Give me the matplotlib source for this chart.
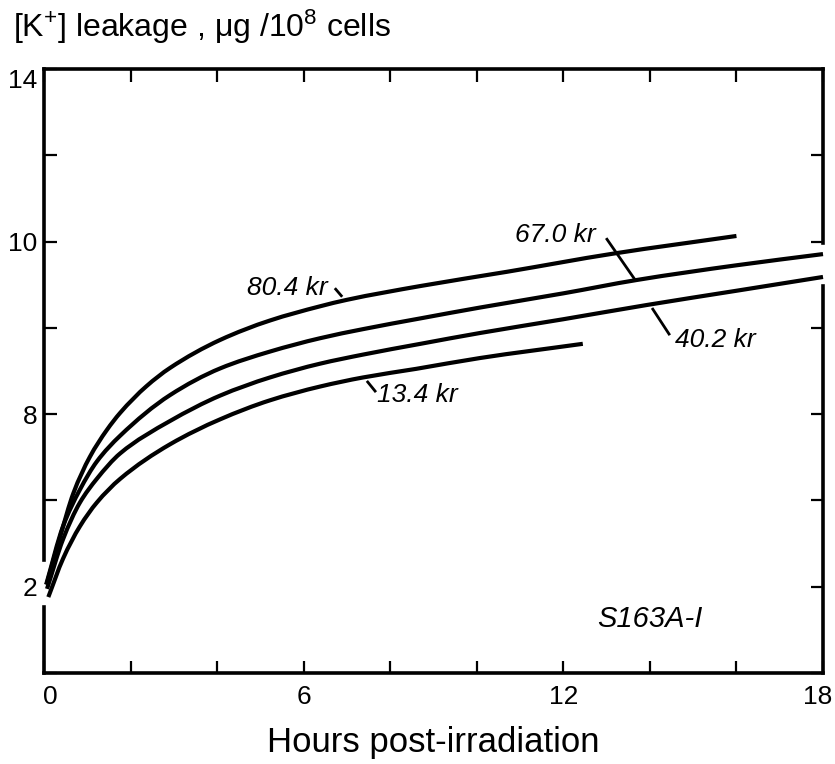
import matplotlib
matplotlib.use("Agg")
import matplotlib.pyplot as plt
from matplotlib.path import Path
from matplotlib.patches import PathPatch
from matplotlib.transforms import ScaledTranslation

# ---- data ----
hours_804 = [0.06, 0.37, 0.68, 1.06, 1.45, 1.76, 2.37, 2.91, 4.07, 5.22, 6.38, 7.0, 8.7, 10.7, 13.15, 16.0]
leak_804 = [2.05, 3.15, 4.17, 5.01, 5.63, 6.03, 6.65, 7.07, 7.72, 8.17, 8.5, 8.65, 8.97, 9.3, 9.72, 10.13]

hours_670 = [0.05, 0.44, 0.83, 1.22, 1.76, 2.91, 4.07, 5.22, 6.38, 7.37, 8.7, 10.07, 12.0, 13.7, 16.0, 18.0]
leak_670 = [2.05, 3.4, 4.25, 4.9, 5.5, 6.44, 7.06, 7.45, 7.76, 7.97, 8.22, 8.47, 8.8, 9.11, 9.45, 9.71]

hours_402 = [0.07, 0.44, 0.83, 1.22, 1.76, 2.91, 4.07, 5.22, 6.38, 7.37, 8.7, 10.07, 12.0, 13.93, 16.0, 18.0]
leak_402 = [1.95, 3.1, 3.95, 4.5, 5.09, 5.84, 6.43, 6.85, 7.17, 7.38, 7.63, 7.88, 8.2, 8.53, 8.86, 9.18]

hours_134 = [0.1, 0.44, 0.83, 1.22, 1.76, 2.91, 4.07, 5.22, 6.38, 7.37, 8.6, 10.07, 12.45]
leak_134 = [1.76, 2.65, 3.4, 3.95, 4.5, 5.3, 5.88, 6.32, 6.64, 6.85, 7.05, 7.3, 7.63]

series_labels = ["80.4 kr", "67.0 kr", "40.2 kr", "13.4 kr"]

x_ticks = [0, 2, 4, 6, 8, 10, 12, 14, 16, 18]
x_ticklabels = ["0", "", "", "6", "", "", "12", "", "", "18"]
y_ticks = [0, 2, 4, 6, 8, 10, 12, 14]
y_ticklabels = ["", "2", "", "8", "", "10", "", "14"]

# ---- style / layout ----
FONT = ["Liberation Sans", "DejaVu Sans"]
plt.rcParams["font.family"] = FONT
plt.rcParams["mathtext.fontset"] = "custom"
plt.rcParams["mathtext.rm"] = "Liberation Sans"
plt.rcParams["mathtext.it"] = "Liberation Sans:italic"

W, H = 835, 764
fig = plt.figure(figsize=(W / 100, H / 100), dpi=100)
ax = fig.add_axes([44 / W, 91 / H, 779 / W, 604 / H])
ax.set_xlim(0, 18)
ax.set_ylim(0, 14)

SPINE_LW = 2.6
CURVE_LW = 3.0

for s in ax.spines.values():
    s.set_linewidth(SPINE_LW)
    s.set_capstyle("projecting")

# gaps in the left and right frame lines (where curves start / leave)
left_gap = (1.53, 2.62)
right_gap = (8.97, 9.97)
ax.spines["left"].set_bounds(0, left_gap[0])
ax.axvline(0, ymin=left_gap[1] / 14, ymax=1, color="k", lw=SPINE_LW,
           solid_capstyle="projecting", clip_on=False)
ax.spines["right"].set_bounds(0, right_gap[0])
ax.axvline(18, ymin=right_gap[1] / 14, ymax=1, color="k", lw=SPINE_LW,
           solid_capstyle="projecting", clip_on=False)

ax.set_xticks(x_ticks)
ax.set_xticklabels(x_ticklabels)
ax.set_yticks(y_ticks)
ax.set_yticklabels(y_ticklabels)
ax.tick_params(direction="in", length=9, width=1.6, top=True, right=True,
               labelsize=19)
ax.tick_params(axis="x", pad=9)
ax.tick_params(axis="y", pad=5)
# no tick inside the left gap
ax.yaxis.get_major_ticks()[1].tick1line.set_visible(False)
# top label sits just below the corner
for lbl in ax.get_yticklabels():
    if lbl.get_text() == "14":
        lbl.set_va("top")
# nudge end labels like the reference
last = ax.xaxis.get_major_ticks()[-1].label1
last.set_transform(last.get_transform() + ScaledTranslation(-5 / 100, 0, fig.dpi_scale_trans))
first = ax.xaxis.get_major_ticks()[0].label1
first.set_transform(first.get_transform() + ScaledTranslation(6 / 100, 0, fig.dpi_scale_trans))


def smooth_path(xs, ys):
    """Monotone cubic (PCHIP-style) Bezier path through the given points."""
    n = len(xs)
    h = [xs[i + 1] - xs[i] for i in range(n - 1)]
    d = [(ys[i + 1] - ys[i]) / h[i] for i in range(n - 1)]
    m = [0.0] * n
    m[0] = d[0]
    m[-1] = d[-1]
    for k in range(1, n - 1):
        if d[k - 1] * d[k] <= 0:
            m[k] = 0.0
        else:
            w1 = 2 * h[k] + h[k - 1]
            w2 = h[k] + 2 * h[k - 1]
            m[k] = (w1 + w2) / (w1 / d[k - 1] + w2 / d[k])
    verts = [(xs[0], ys[0])]
    codes = [Path.MOVETO]
    for i in range(n - 1):
        t = h[i] / 3.0
        verts += [(xs[i] + t, ys[i] + t * m[i]),
                  (xs[i + 1] - t, ys[i + 1] - t * m[i + 1]),
                  (xs[i + 1], ys[i + 1])]
        codes += [Path.CURVE4] * 3
    return Path(verts, codes)


for hx, ly in [(hours_804, leak_804), (hours_670, leak_670),
               (hours_402, leak_402), (hours_134, leak_134)]:
    patch = PathPatch(smooth_path(hx, ly), facecolor="none", edgecolor="k",
                      lw=CURVE_LW, capstyle="butt", joinstyle="round",
                      clip_on=False)
    ax.add_patch(patch)

# curve labels with leader lines
label_pos = [(4.69, 8.76), (10.88, 9.99), (14.58, 7.56), (7.69, 6.28)]
leaders = [((6.72, 8.92), (6.89, 8.72)),
           ((12.99, 10.08), (13.66, 9.11)),
           ((14.05, 8.46), (14.46, 7.83)),
           ((7.46, 6.77), (7.67, 6.51))]
for txt, (tx, ty), (p0, p1) in zip(series_labels, label_pos, leaders):
    ax.text(tx, ty, txt, fontsize=19, style="italic", ha="left", va="baseline")
    ax.plot([p0[0], p1[0]], [p0[1], p1[1]], color="k", lw=2.0,
            solid_capstyle="butt")

ax.text(12.78, 1.07, "S163A-I", fontsize=21, style="italic",
        ha="left", va="baseline")

fig.text(13 / W, 1 - 37 / H, r"[K$^{+}$] leakage , μg /10$^{8}$ cells",
         fontsize=23, ha="left", va="baseline")
fig.text(433 / W, 1 - 752 / H, "Hours post-irradiation", fontsize=25,
         ha="center", va="baseline")

fig.savefig("out.png", dpi=100, facecolor="white")
